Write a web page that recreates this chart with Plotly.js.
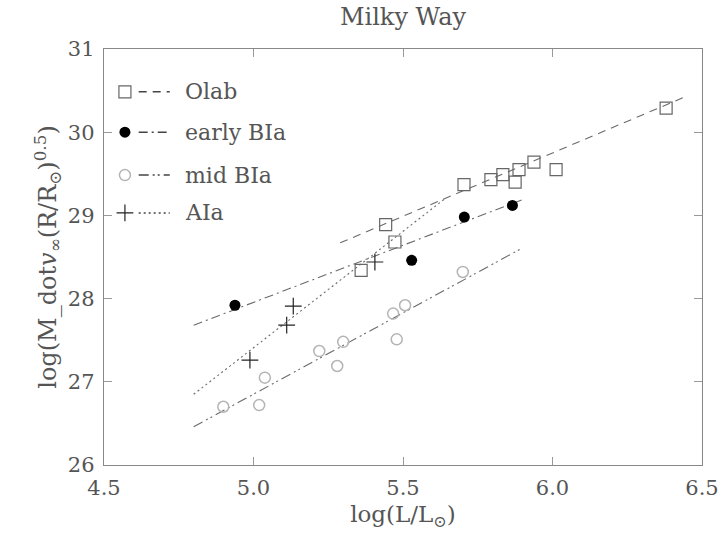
<!DOCTYPE html>
<html>
<head>
<meta charset="utf-8">
<script src="https://cdn.plot.ly/plotly-3.0.1.min.js"></script>
<style>html,body{margin:0;padding:0;background:#fff;}#chart{width:725px;height:546px;}</style>
</head>
<body>
<div id="chart"></div>
<script>
// ---- data ----
const seriesNames = ["Olab", "early BIa", "mid BIa", "AIa"];

const olabX = [5.36, 5.442, 5.473, 5.704, 5.794, 5.834, 5.875, 5.888, 5.938, 6.012, 6.38];
const olabY = [28.34, 28.89, 28.68, 29.37, 29.43, 29.49, 29.40, 29.55, 29.64, 29.55, 30.29];
const olabFitX = [5.29, 6.44];
const olabFitY = [28.67, 30.42];

const earlyX = [4.938, 5.529, 5.705, 5.866];
const earlyY = [27.92, 28.46, 28.98, 29.12];
const earlyFitX = [4.80, 5.90];
const earlyFitY = [27.68, 29.19];

const midX = [4.899, 5.019, 5.038, 5.22, 5.28, 5.30, 5.467, 5.479, 5.507, 5.70];
const midY = [26.70, 26.72, 27.05, 27.37, 27.19, 27.48, 27.82, 27.51, 27.92, 28.32];
const midFitX = [4.80, 5.90];
const midFitY = [26.46, 28.61];

const aiaX = [4.988, 5.111, 5.133, 5.406];
const aiaY = [27.26, 27.68, 27.91, 28.44];
const aiaFitX = [4.80, 5.64];
const aiaFitY = [26.85, 29.20];

const xTicks = [4.5, 5.0, 5.5, 6.0, 6.5];
const xTickText = ["4.5", "5.0", "5.5", "6.0", "6.5"];
const yTicks = [26, 27, 28, 29, 30, 31];

// ---- styles ----
const gray = "#6a6a6a";
const styles = [
  {marker: {symbol: "square-open", size: 12, color: "#666", line: {width: 1.2}}, dash: "8px,6px", lineColor: gray},
  {marker: {symbol: "circle", size: 11, color: "#000"}, dash: "9px,4px,2px,4px", lineColor: gray},
  {marker: {symbol: "circle-open", size: 11, color: "#b4b4b4", line: {width: 1.5}}, dash: "10px,4px,2px,3px,2px,4px", lineColor: gray},
  {marker: {symbol: "cross-thin-open", size: 12, color: "#222", line: {width: 1.2}}, dash: "2px,3px", lineColor: gray}
];

const pts = [[olabX, olabY], [earlyX, earlyY], [midX, midY], [aiaX, aiaY]];
const fits = [[olabFitX, olabFitY], [earlyFitX, earlyFitY], [midFitX, midFitY], [aiaFitX, aiaFitY]];

const traces = [];
fits.forEach((f, i) => {
  traces.push({x: f[0], y: f[1], mode: "lines", type: "scatter", showlegend: false, hoverinfo: "skip",
    line: {color: styles[i].lineColor, width: 1.1, dash: styles[i].dash}});
});
pts.forEach((p, i) => {
  traces.push({x: p[0], y: p[1], mode: "markers", type: "scatter", showlegend: false, name: seriesNames[i],
    marker: styles[i].marker});
});

// ---- custom legend (marker, then line sample, then label) on an overlay paper-like axis ----
const legRowY = [0.897, 0.800, 0.697, 0.606];
const legMarkerX = 0.035, legLineX0 = 0.058, legLineX1 = 0.110, legTextX = 0.132;
const annotations = [];
seriesNames.forEach((n, i) => {
  traces.push({x: [legMarkerX], y: [legRowY[i]], xaxis: "x2", yaxis: "y2", mode: "markers", type: "scatter",
    showlegend: false, hoverinfo: "skip", marker: styles[i].marker});
  traces.push({x: [legLineX0, legLineX1], y: [legRowY[i], legRowY[i]], xaxis: "x2", yaxis: "y2", mode: "lines",
    type: "scatter", showlegend: false, hoverinfo: "skip",
    line: {color: "#444", width: 1.5, dash: styles[i].dash}});
  annotations.push({xref: "x2", yref: "y2", x: legTextX, y: legRowY[i], text: n, showarrow: false,
    xanchor: "left", yanchor: "middle", font: {family: "DejaVu Serif", size: 22, color: "#555"}});
});

const axisFont = {family: "DejaVu Serif", size: 21, color: "#555"};
const layout = {
  width: 725, height: 546,
  margin: {l: 104, r: 23, t: 49, b: 81},
  paper_bgcolor: "#fff", plot_bgcolor: "#fff",
  title: {text: "Milky Way", x: 0.5, xref: "paper", y: 0.985, yanchor: "top",
    font: {family: "DejaVu Serif", size: 24, color: "#555"}},
  xaxis: {range: [4.5, 6.5], tickvals: xTicks, ticktext: xTickText, ticks: "inside", ticklen: 8,
    tickcolor: "#999", showline: true, linecolor: "#888", linewidth: 1.2, mirror: "ticks",
    showgrid: false, zeroline: false, tickfont: axisFont, ticklabelstandoff: 4,
    title: {text: "log(L/L<sub>⊙</sub>)", font: {family: "DejaVu Serif", size: 23, color: "#555"}, standoff: 6}},
  yaxis: {range: [26, 31], tickvals: yTicks, ticks: "inside", ticklen: 8, tickcolor: "#999",
    showline: true, linecolor: "#888", linewidth: 1.2, mirror: "ticks", showgrid: false, zeroline: false,
    tickfont: axisFont, ticklabelstandoff: 4,
    title: {text: "log(M_dot<i>v</i><sub>∞</sub>(R/R<sub>⊙</sub>)<sup>0.5</sup>)",
      font: {family: "DejaVu Serif", size: 24, color: "#555"}, standoff: 4}},
  xaxis2: {overlaying: "x", range: [0, 1], visible: false, fixedrange: true},
  yaxis2: {overlaying: "y", range: [0, 1], visible: false, fixedrange: true},
  annotations: annotations,
  showlegend: false
};

Plotly.newPlot("chart", traces, layout, {displayModeBar: false, staticPlot: true});
</script>
</body>
</html>
